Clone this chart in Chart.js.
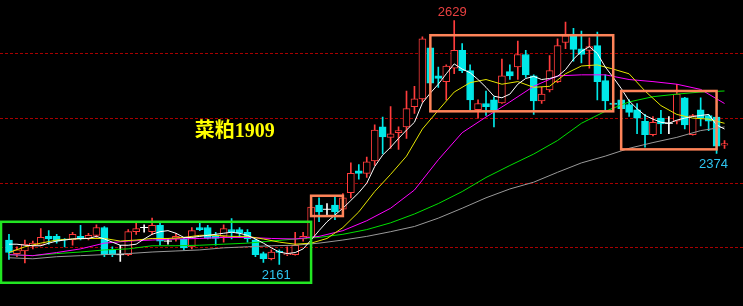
<!DOCTYPE html>
<html>
<head>
<meta charset="utf-8">
<script src="https://cdn.jsdelivr.net/npm/chart.js@4.4.1/dist/chart.umd.min.js"></script>
<style>
html, body { margin: 0; padding: 0; background: #000; }
#wrap { width: 743px; height: 306px; }
</style>
</head>
<body>
<div id="wrap"><canvas id="kline" width="743" height="306"></canvas></div>
<script>
// daily bars, rapeseed meal 1909
var open = [2208,2182,2187,2197,2198,2215,2215,2210,2208,2215,2211,2217,2232,2189,2180,2180,2224,2232,2224,2236,
    2206,2210,2210,2195,2232,2232,2215,2215,2228,2228,2223,2208,2182,2172,2187,2180,2180,2210,2213,2275,
    2267,2275,2267,2299,2341,2336,2360,2425,2405,2414,2425,2464,2479,2577,2523,2512,2538,2572,2533,2458,
    2470,2477,2471,2531,2540,2564,2523,2475,2496,2512,2587,2600,2575,2572,2581,2514,2471,2477,2468,2458,
    2436,2410,2442,2432,2436,2481,2410,2458,2447,2444,2390];
var high = [2219,2195,2208,2206,2230,2226,2219,2211,2223,2236,2221,2237,2234,2195,2198,2228,2243,2237,2250,2243,
    2211,2221,2213,2232,2241,2236,2223,2237,2249,2232,2228,2210,2185,2189,2189,2195,2223,2223,2275,2289,
    2278,2291,2297,2356,2353,2367,2429,2444,2464,2425,2494,2503,2598,2578,2540,2544,2629,2585,2544,2477,
    2494,2483,2555,2544,2590,2572,2525,2501,2562,2594,2626,2614,2609,2596,2607,2525,2473,2478,2477,2470,
    2449,2445,2457,2445,2507,2482,2449,2481,2449,2445,2399];
var low = [2171,2176,2164,2191,2197,2200,2202,2195,2198,2208,2208,2213,2176,2176,2167,2178,2219,2223,2219,2198,
    2200,2206,2189,2191,2226,2210,2198,2204,2210,2213,2204,2176,2165,2170,2161,2178,2179,2206,2198,2243,
    2254,2247,2263,2289,2325,2328,2351,2373,2384,2382,2403,2451,2473,2505,2501,2477,2527,2529,2457,2442,
    2447,2425,2470,2516,2516,2520,2449,2470,2492,2510,2575,2551,2548,2538,2477,2455,2466,2442,2445,2412,
    2386,2408,2412,2412,2431,2421,2409,2427,2418,2374,2384];
var close = [2184,2189,2200,2202,2213,2210,2206,2208,2219,2210,2217,2232,2180,2180,2180,2224,2230,2232,2236,2206,
    2206,2215,2193,2226,2228,2211,2211,2230,2224,2221,2210,2180,2172,2185,2184,2182,2198,2215,2271,2262,
    2267,2262,2289,2336,2336,2358,2419,2406,2412,2418,2460,2479,2594,2509,2518,2542,2572,2533,2477,2470,
    2464,2458,2523,2523,2564,2525,2475,2488,2533,2581,2600,2574,2564,2579,2512,2475,2468,2460,2453,2442,
    2410,2434,2431,2432,2488,2429,2447,2442,2436,2388,2393];

// moving averages (white every bar, yellow every 2nd, others every 3rd)
var ma5 = [2200,2200,2198,2197,2197,2202,2206,2208,2210,2211,2211,2215,2210,2204,2198,2198,2200,2210,2219,2224,
    2226,2221,2213,2213,2215,2217,2219,2221,2223,2221,2217,2210,2202,2193,2185,2182,2184,2191,2208,2226,
    2243,2256,2269,2284,2299,2317,2349,2371,2386,2403,2419,2434,2471,2490,2507,2527,2546,2536,2529,2516,
    2501,2484,2481,2488,2507,2518,2522,2516,2518,2522,2535,2555,2570,2579,2566,2540,2520,2499,2475,2460,
    2447,2440,2434,2432,2438,2442,2445,2447,2449,2429,2421];
var ma10 = [2184,2195,2202,2208,2210,2211,2211,2206,2208,2211,2211,2213,2217,2217,2215,2215,2210,2204,2200,2202,
    2211,2232,2262,2301,2334,2369,2421,2457,2492,2510,2516,2507,2512,2501,2503,2527,2542,2544,2536,2527,
    2494,2466,2449,2442,2440,2432];
var ma20 = [2180,2178,2184,2191,2202,2206,2208,2210,2211,2213,2213,2211,2210,2215,2226,2245,2269,2304,2362,2414,
    2444,2473,2503,2523,2525,2525,2516,2512,2507,2497,2470];
var ma40 = [2180,2178,2182,2185,2189,2191,2197,2197,2198,2200,2202,2206,2210,2213,2219,2228,2241,2258,2278,2301,
    2328,2351,2373,2399,2432,2455,2473,2483,2488,2492,2494];
var ma60 = [2174,2172,2176,2178,2180,2182,2185,2187,2189,2193,2195,2197,2198,2202,2208,2215,2224,2234,2250,2269,
    2289,2306,2319,2338,2356,2369,2384,2395,2405,2418,2425];

var gridLevels = [2566, 2442, 2318, 2195];

// marked ranges: bar index from/to, price top/bottom
var boxFrom = [-1, 38, 53, 77];
var boxTo = [38, 42, 76, 89];
var boxTop = [2243, 2293, 2601, 2494];
var boxBottom = [2126, 2254, 2455, 2382];

var title = '菜粕1909';

var UP = '#ff3c3c', DOWN = '#00e8e8', FLAT = '#ffffff';

var days = open.map(function (v, i) { return i + 1; });
var tone = open.map(function (o, i) { return close[i] > o ? UP : (close[i] < o ? DOWN : FLAT); });

function spread(vals, step) {
    var out = new Array(open.length).fill(null);
    vals.forEach(function (v, k) { out[k * step] = v; });
    return out;
}

function maLine(label, data, color) {
    return {
        type: 'line',
        label: label,
        data: data,
        borderColor: color,
        borderWidth: 1,
        pointRadius: 0,
        tension: 0,
        spanGaps: true,
        order: 1
    };
}

var marks = {
    id: 'marks',
    beforeDatasetsDraw: function (chart) {
        var ctx = chart.ctx, y = chart.scales.y;
        ctx.save();
        ctx.strokeStyle = '#a80000';
        ctx.lineWidth = 1;
        ctx.setLineDash([3, 2]);
        gridLevels.forEach(function (v) {
            var py = Math.round(y.getPixelForValue(v)) + 0.5;
            ctx.beginPath();
            ctx.moveTo(0, py);
            ctx.lineTo(chart.width, py);
            ctx.stroke();
        });
        ctx.restore();
    },
    afterDatasetsDraw: function (chart) {
        var ctx = chart.ctx, x = chart.scales.x, y = chart.scales.y;
        ctx.save();
        ctx.lineWidth = 2.5;
        boxFrom.forEach(function (f, k) {
            ctx.strokeStyle = k === 0 ? '#22e622' : '#ff8459';
            var x0 = x.getPixelForValue(f), x1 = x.getPixelForValue(boxTo[k]);
            var y0 = y.getPixelForValue(boxTop[k]), y1 = y.getPixelForValue(boxBottom[k]);
            ctx.strokeRect(x0, y0, x1 - x0, y1 - y0);
        });

        ctx.font = "13px 'Liberation Sans', Arial, sans-serif";
        ctx.textAlign = 'center';
        // highest high
        ctx.fillStyle = '#e84040';
        ctx.textBaseline = 'bottom';
        ctx.fillText(String(high[56]), x.getPixelForValue(56) - 2, y.getPixelForValue(high[56]) - 2);
        // lows
        ctx.fillStyle = '#2ec4f0';
        ctx.textBaseline = 'top';
        [34, 89].forEach(function (i) {
            ctx.fillText(String(low[i]), x.getPixelForValue(i) - 3, y.getPixelForValue(low[i]) + 4);
        });

        ctx.font = "bold 20px 'Liberation Serif', 'Noto Sans CJK SC', serif";
        ctx.fillStyle = '#ffff00';
        ctx.textBaseline = 'middle';
        ctx.fillText(title, x.getPixelForValue(28.4), y.getPixelForValue(2416));
        ctx.restore();
    }
};

new Chart(document.querySelector('#kline'), {
    type: 'bar',
    data: {
        labels: days,
        datasets: [
            maLine('MA5', ma5, '#ffffff'),
            maLine('MA10', spread(ma10, 2), '#e6e600'),
            maLine('MA20', spread(ma20, 3), '#ff00ff'),
            maLine('MA40', spread(ma40, 3), '#00e000'),
            maLine('MA60', spread(ma60, 3), '#999999'),
            {
                type: 'line',
                label: 'doji',
                data: open.map(function (o, i) { return o === close[i] ? o : null; }),
                showLine: false,
                pointStyle: 'line',
                pointRadius: 4,
                borderColor: FLAT,
                borderWidth: 1,
                order: 2
            },
            {
                label: 'body',
                data: open.map(function (o, i) { return o === close[i] ? null : [o, close[i]]; }),
                backgroundColor: open.map(function (o, i) { return close[i] > o ? '#000000' : DOWN; }),
                borderColor: tone,
                borderWidth: 1,
                borderSkipped: false,
                barThickness: 7,
                grouped: false,
                order: 3
            },
            {
                label: 'wick',
                data: low.map(function (l, i) { return [l, high[i]]; }),
                backgroundColor: tone,
                barThickness: 1,
                grouped: false,
                order: 4
            }
        ]
    },
    options: {
        responsive: false,
        animation: false,
        events: [],
        layout: { padding: { left: 0.5, right: 14.5, top: 0, bottom: 0 } },
        scales: {
            x: { type: 'category', display: false, offset: true, grid: { display: false } },
            y: { type: 'linear', display: false, min: 2091, max: 2659 }
        },
        plugins: {
            legend: { display: false },
            tooltip: { enabled: false }
        }
    },
    plugins: [marks]
});
</script>
</body>
</html>
